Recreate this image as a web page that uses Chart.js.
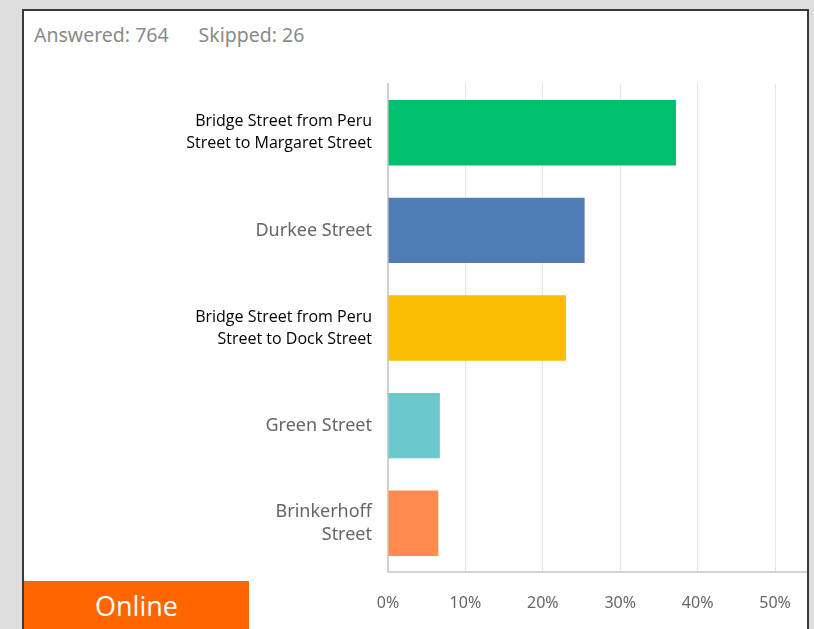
<!DOCTYPE html>
<html>
<head>
<meta charset="utf-8">
<script src="https://cdn.jsdelivr.net/npm/chart.js@4"></script>
<style>
  html, body { margin:0; padding:0; }
  body { width:814px; height:629px; background:#dedede; position:relative; overflow:hidden; font-family:"Noto Sans", sans-serif; }
  #panel { position:absolute; left:22px; top:9px; width:783px; height:640px; background:#fff; border:2px solid #3a3a3a; }
  #summary { position:absolute; left:34px; top:21px; font-size:19.5px; color:#8a8a8a; white-space:nowrap; }
  #summary span + span { margin-left:30px; }
  #wrap { position:absolute; left:0; top:0; width:814px; height:629px; }
  #online { position:absolute; left:24px; top:581px; width:225px; height:50px; background:#ff6600; color:#fff;
            font-family:"Open Sans", sans-serif; font-size:27px; text-align:center; line-height:50px; }
</style>
</head>
<body>
<div id="panel"></div>
<div id="summary"><span>Answered: 764</span><span>Skipped: 26</span></div>
<div id="wrap"><canvas id="chart"></canvas></div>
<div id="online">Online</div>
<script>
// answer choices and share of respondents (%)
const categories = [
  ["Bridge Street from Peru", "Street to Margaret Street"],
  "Durkee Street",
  ["Bridge Street from Peru", "Street to Dock Street"],
  "Green Street",
  ["Brinkerhoff", "Street"]
];
const percentages = [37.2, 25.4, 23.0, 6.7, 6.5];
const barColors = ["#00bf6f", "#507cb6", "#f9be00", "#6bc8cd", "#ff8b4f"];
const xTicks = [0, 10, 20, 30, 40, 50];

// rows whose label was pasted over in black text
const pastedRows = [0, 2];

new Chart(document.getElementById("chart"), {
  type: "bar",
  data: {
    labels: categories,
    datasets: [{ data: percentages, backgroundColor: barColors, barPercentage: 0.67, categoryPercentage: 1 }]
  },
  options: {
    indexAxis: "y",
    responsive: true,
    maintainAspectRatio: false,
    animation: false,
    layout: { padding: { top: 84, right: 8, bottom: 16, left: 0 } },
    plugins: { legend: { display: false }, tooltip: { enabled: false } },
    scales: {
      x: {
        min: 0, max: 54,
        afterBuildTicks: s => { s.ticks = xTicks.map(v => ({ value: v })); },
        afterFit: s => { s.height = 41; },
        grid: { color: "#e6e6e6", drawTicks: false },
        border: { color: "#d4d4d4", width: 2 },
        ticks: { padding: 22, color: "#666", font: { family: "Noto Sans", size: 16 }, callback: v => v + "%" }
      },
      y: {
        afterFit: s => { s.width = 388; },
        grid: { display: false, drawTicks: false },
        border: { color: "#d0d0d0", width: 2 },
        ticks: {
          padding: 16,
          color: ctx => pastedRows.includes(ctx.index) ? "#000" : "#666",
          font: ctx => pastedRows.includes(ctx.index)
            ? { family: "Open Sans", size: 16, lineHeight: 1.38 }
            : { family: "Noto Sans", size: 18, lineHeight: 1.28 }
        }
      }
    }
  }
});
</script>
</body>
</html>
